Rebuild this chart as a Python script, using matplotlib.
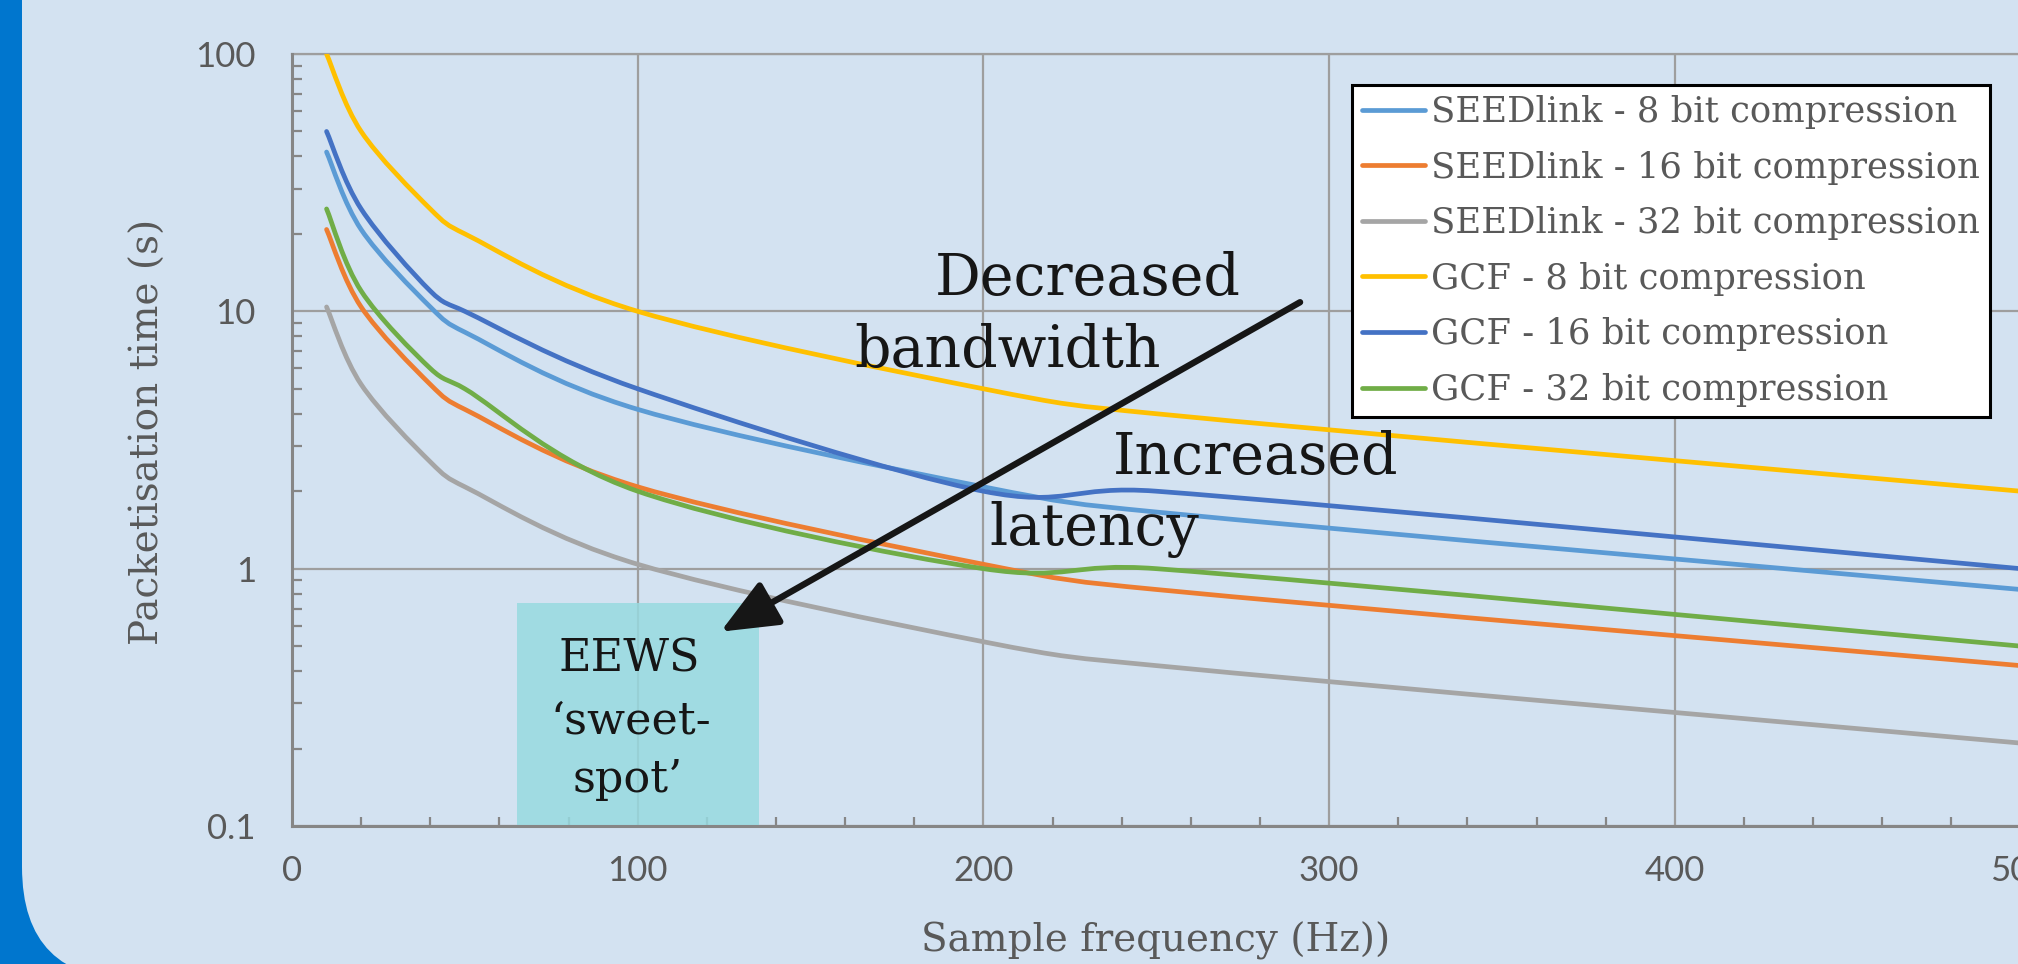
import matplotlib
matplotlib.use("Agg")
import matplotlib.pyplot as plt
from matplotlib.path import Path
from matplotlib.patches import PathPatch, FancyBboxPatch, Rectangle
from matplotlib.lines import Line2D
from matplotlib.ticker import FixedLocator, LogLocator, MultipleLocator, NullFormatter
import numpy as np

# sample rates (Hz) and packetisation times (s)
freq = [10, 20, 40, 50, 100, 200, 250, 500]
seed_8 = [41.6, 20.8, 10.4, 8.3, 4.16, 2.08, 1.66, 0.83]
seed_16 = [20.8, 10.4, 5.2, 4.16, 2.08, 1.04, 0.83, 0.42]
seed_32 = [10.4, 5.2, 2.6, 2.08, 1.04, 0.52, 0.42, 0.21]
gcf_8 = [100, 50, 25, 20, 10, 5, 4, 2]
gcf_16 = [50, 25, 12, 10, 5, 2, 2, 1]
gcf_32 = [25, 12, 6, 5, 2, 1, 1, 0.5]

labels = ["SEEDlink - 8 bit compression", "SEEDlink - 16 bit compression",
          "SEEDlink - 32 bit compression", "GCF - 8 bit compression",
          "GCF - 16 bit compression", "GCF - 32 bit compression"]
series = [seed_8, seed_16, seed_32, gcf_8, gcf_16, gcf_32]
colors = ["#5B9BD5", "#ED7D31", "#A5A5A5", "#FFC000", "#4472C4", "#70AD47"]

# EEWS sweet-spot region and arrow ends (data units)
sweet_x = (65.2, 135.2)
sweet_y = (0.1, 0.734)
arrow_from = (291.6, 10.85)
arrow_to = (124.0, 0.569)

W, H = 2018, 964
GREY = "#595959"
SERIF = ["DejaVu Serif"]


def fx(px):
    return px / W


def fy(py):
    return 1 - py / H


def smooth_path(ax, xs, ys):
    # Excel-like smoothed line: bezier through the points, worked out on screen,
    # tangents capped at half the segment length
    pts = ax.transData.transform(np.column_stack([xs, ys]))
    n = len(pts)
    verts = [pts[0]]
    codes = [Path.MOVETO]
    for i in range(n - 1):
        p0 = pts[i - 1] if i > 0 else pts[i]
        p1 = pts[i]
        p2 = pts[i + 1]
        p3 = pts[i + 2] if i + 2 < n else pts[i + 1]
        seg = np.hypot(*(p2 - p1))
        t1 = (p2 - p0) / 6
        t2 = (p3 - p1) / 6
        for t in (t1, t2):
            ln = np.hypot(*t)
            if ln > seg / 2:
                t *= (seg / 2) / ln
        verts += [p1 + t1, p2 - t2, p2]
        codes += [Path.CURVE4] * 3
    v = ax.transData.inverted().transform(np.array(verts))
    return Path(v, codes)


fig = plt.figure(figsize=(W / 100, H / 100), dpi=100, facecolor="#0076CE")

panel = FancyBboxPatch((0.22, -0.16), 40, 30,
                       boxstyle="round,pad=0,rounding_size=1.13",
                       transform=fig.dpi_scale_trans, fc="#D3E2F1", ec="none",
                       zorder=-5)
fig.add_artist(panel)

ax = fig.add_axes([fx(292), fy(826), 1728.5 / W, (826 - 54) / H])
ax.set_facecolor("none")
ax.set_yscale("log")
ax.set_xlim(0, 500)
ax.set_ylim(0.1, 100)

ax.xaxis.set_major_locator(MultipleLocator(100))
ax.xaxis.set_minor_locator(MultipleLocator(20))
ax.yaxis.set_major_locator(FixedLocator([0.1, 1, 10, 100]))
ax.yaxis.set_minor_locator(LogLocator(base=10, subs=np.arange(2, 10)))
ax.yaxis.set_minor_formatter(NullFormatter())
ax.set_yticklabels(["0.1", "1", "10", "100"])

ax.grid(True, which="major", color="#9E9E9E", linewidth=1.6)
ax.set_axisbelow(True)
ax.spines["right"].set_visible(False)
ax.spines["top"].set_color("#9E9E9E")
ax.spines["top"].set_linewidth(1.6)
for s in ["left", "bottom"]:
    ax.spines[s].set_color("#868686")
    ax.spines[s].set_linewidth(2.2)
    ax.spines[s].set_zorder(3)

ax.tick_params(which="major", length=0, labelsize=25, labelcolor=GREY)
ax.tick_params(axis="x", which="major", pad=21)
ax.tick_params(axis="y", which="major", pad=26)
ax.tick_params(which="minor", direction="in", color="#868686", width=1.6)
ax.tick_params(axis="x", which="minor", length=6.5)
ax.tick_params(axis="y", which="minor", length=7.2)
for t in ax.get_xticklabels() + ax.get_yticklabels():
    t.set_family(["Lato", "DejaVu Sans"])

# sweet spot box
ax.add_patch(Rectangle((sweet_x[0], sweet_y[0]), sweet_x[1] - sweet_x[0],
                       sweet_y[1] - sweet_y[0], fc="#97DAE0", ec="none",
                       alpha=0.85, zorder=2.5))

handles = []
for ys, c in zip(series, colors):
    ax.add_patch(PathPatch(smooth_path(ax, freq, ys), fill=False, ec=c, lw=3.4,
                           capstyle="round", joinstyle="round", zorder=4))
    handles.append(Line2D([], [], color=c, lw=3.4, solid_capstyle="round"))

ax.annotate("", xy=arrow_to, xytext=arrow_from,
            arrowprops=dict(arrowstyle="-|>,head_length=1.4,head_width=0.6",
                            lw=4.6, color="#161616", shrinkA=0, shrinkB=0,
                            mutation_scale=25),
            zorder=6)

leg = fig.legend(handles, labels, loc="upper left",
                 bbox_to_anchor=(fx(1352), fy(85)), borderaxespad=0,
                 frameon=True, fancybox=False, edgecolor="black",
                 facecolor="white", framealpha=1,
                 prop={"family": SERIF, "size": 25.5}, labelcolor=GREY,
                 handlelength=1.78, handletextpad=0.17, labelspacing=0.61,
                 borderpad=0.28)
leg.get_frame().set_linewidth(2.2)

# annotation texts
txt = dict(family=SERIF, color="#161616", fontsize=41, ha="center", va="baseline")
fig.text(fx(1088), fy(295), "Decreased", **txt)
fig.text(fx(1008), fy(367), "bandwidth", **txt)
fig.text(fx(1256), fy(474), "Increased", **txt)
fig.text(fx(1094), fy(545), "latency", **txt)

sw = dict(family=SERIF, color="#161616", fontsize=32, ha="center", va="baseline")
fig.text(fx(629), fy(672), "EEWS", **sw)
fig.text(fx(631), fy(733), "\u2018sweet-", **sw)
fig.text(fx(628), fy(792), "spot\u2019", **sw)

# axis titles
fig.text(fx(1156), fy(952), "Sample frequency (Hz))", family=SERIF, color=GREY,
         fontsize=28, ha="center", va="baseline")
fig.text(fx(148), fy(432), "Packetisation time (s)", family=SERIF, color=GREY,
         fontsize=28, ha="center", va="center", rotation=90)

plt.savefig("out.png", dpi=100)
